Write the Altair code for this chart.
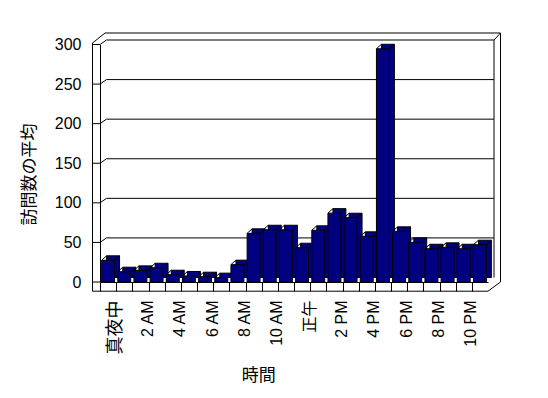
import altair as alt
import pandas as pd

# ---- data ----
categories = ["真夜中", "1 AM", "2 AM", "3 AM", "4 AM", "5 AM", "6 AM", "7 AM",
              "8 AM", "9 AM", "10 AM", "11 AM", "正午", "1 PM", "2 PM", "3 PM",
              "4 PM", "5 PM", "6 PM", "7 PM", "8 PM", "9 PM", "10 PM", "11 PM"]
visits = [27.4, 13, 14.7, 18, 9.2, 7.6, 6.7, 5.5, 21.9, 61.5, 66, 66,
          43.3, 65.3, 87, 81.2, 57.7, 294.6, 64, 50.1, 42, 43.8, 42, 47.1]
y_ticks = [0, 50, 100, 150, 200, 250, 300]
shown_labels = ["真夜中", "2 AM", "4 AM", "6 AM", "8 AM", "10 AM", "正午",
                "2 PM", "4 PM", "6 PM", "8 PM", "10 PM"]

df = pd.DataFrame({"cat": categories, "v": visits})
grid_df = pd.DataFrame({"v": y_ticks[1:]})
tick_df = pd.DataFrame({"v": y_ticks})
one = pd.DataFrame({"k": [0]})

NAVY = "#000080"
FONT = "Liberation Sans, Noto Sans CJK JP"
CJK = "Noto Sans CJK JP"
W, H = 388, 237.5
DX, DY = 5, -4.5

label_list = "[" + ",".join(f"'{s}'" for s in shown_labels) + "]"

x_enc = alt.X(
    "cat:N", sort=categories,
    scale=alt.Scale(paddingInner=0.2, paddingOuter=0.1),
    axis=alt.Axis(
        labelExpr=f"indexof({label_list}, datum.value) >= 0 ? datum.value : ''",
        labelAngle=-90, labelAlign="right", labelBaseline="middle",
        labelPadding=9, tickSize=9, tickColor="black", domainColor="black",
        bandPosition=0, tickOffset=-1.6, labelOffset=8.6, labelOverlap=False,
        labelFont=FONT, labelFontSize={"condition": {"test": "datum.value == '真夜中'", "value": 18}, "value": 16},
        labelColor="black", grid=False,
        title="時間", titleX=158.3, titleY=93.5, titleFont=CJK, titleFontSize=17,
        titleFontWeight="normal", titleColor="black", titleBaseline="middle",
        titleAlign="center", titleAngle=0,
    ),
)
y_enc = alt.Y(
    "v:Q", scale=alt.Scale(domain=[0, 300], nice=False),
    axis=alt.Axis(
        values=y_ticks, tickSize=0, labelPadding=19, domainColor="black",
        labelOverlap=False, tickCount=7,
        labelFont=FONT, labelFontSize=16, labelColor="black", grid=False,
        title="訪問数の平均", titleX=-71, titleY=129.5, titleFont=CJK,
        titleFontSize=17, titleFontWeight="normal", titleColor="black",
        titleAngle=-90, titleBaseline="middle", titleAlign="center",
    ),
)


def seg(x1, y1, x2, y2):
    return alt.Chart(one).mark_rule(color="black", strokeWidth=1).encode(
        x=alt.value(x1), y=alt.value(y1), x2=alt.value(x2), y2=alt.value(y2))


frame = [
    seg(-7.5, -1.5, -7.5, 246.7),
    seg(-7.5, 246.7, 388, 246.7),
    seg(388, 246.7, 400.5, 237.5),
    seg(400.5, -11.5, 400.5, 237.5),
    seg(5, -11.5, 400.5, -11.5),
    seg(-7.5, -1.5, 5, -11.5),
    seg(394, -4.5, 394, 233),
    seg(394, -4.5, 400.5, -11.5),
]

gridlines = alt.Chart(grid_df).mark_rule(color="black", yOffset=DY).encode(
    x=alt.value(6.5), x2=alt.value(394), y=y_enc)
wall_ticks = alt.Chart(tick_df).mark_rule(color="black").encode(
    x=alt.value(-7.5), x2=alt.value(0), y=y_enc)
wall_diag = alt.Chart(grid_df).mark_rule(color="black", y2Offset=DY).encode(
    x=alt.value(0), x2=alt.value(6.5), y=y_enc, y2=alt.Y2("v"))

back = alt.Chart(df).mark_bar(
    color=NAVY, stroke="black", strokeWidth=1,
    xOffset=DX, x2Offset=DX, yOffset=DY, y2Offset=DY,
).encode(x=x_enc, y=y_enc)

diag_tl = alt.Chart(df).mark_rule(color="black", x2Offset=DX, y2Offset=DY).encode(
    x=alt.X("cat:N", sort=categories, bandPosition=0),
    x2=alt.X2("cat", bandPosition=0),
    y=y_enc, y2=alt.Y2("v"))
diag_tr = alt.Chart(df).mark_rule(color="black", x2Offset=DX, y2Offset=DY).encode(
    x=alt.X("cat:N", sort=categories, bandPosition=1),
    x2=alt.X2("cat", bandPosition=1),
    y=y_enc, y2=alt.Y2("v"))

front = alt.Chart(df).mark_bar(color=NAVY, stroke="black", strokeWidth=1).encode(
    x=x_enc, y=y_enc)

chart = alt.layer(
    *frame, gridlines, wall_ticks, wall_diag, back, diag_tl, diag_tr, front
).properties(
    width=W, height=H,
    padding={"left": 92, "top": 36.5, "right": 40, "bottom": 105},
    autosize=alt.AutoSizeParams(type="none"),
    background="white",
).configure_view(stroke=None)

chart.save("out.html", embed_options={"renderer": "svg", "actions": False})
